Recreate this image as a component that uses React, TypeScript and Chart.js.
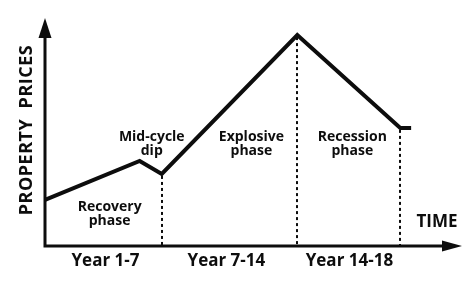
import React, { useEffect, useRef } from 'react';
import { Chart, registerables } from 'chart.js';

Chart.register(...registerables);

// Property cycle path: time position along the axis and relative price level
const timeSteps = [0, 22.7, 28, 60.5, 85.2, 87.8];
const prices = [20.2, 37.3, 31.6, 92.5, 51.8, 51.8];

// Ends of the dip, boom and recession phases (dotted markers drop from here)
const phaseEnds = [28, 60.5, 85.2];

// Period labels under the time axis
const periodLabels = ['Year 1-7', 'Year 7-14', 'Year 14-18'];
const periodCenters = [14.5, 43.5, 73];

// Phase names (two lines each)
const phaseNames = [
  ['Recovery', 'phase'],
  ['Mid-cycle', 'dip'],
  ['Explosive', 'phase'],
  ['Recession', 'phase'],
];

const FONT = '"Open Sans", "Noto Sans", sans-serif';
const INK = '#0d0d0d';

// Where each phase name sits, in axis units
const phaseNameAnchors = [
  { x: 15.5, y: 17.1 },
  { x: 25.6, y: 47.6 },
  { x: 49.5, y: 47.6 },
  { x: 73.7, y: 47.6 },
];

const diagramPlugin = {
  id: 'cycleDiagram',
  beforeDatasetsDraw(chart: any) {
    const { ctx, chartArea, scales } = chart;
    const xs = scales.x;
    const ys = scales.y;
    const { left, right, top, bottom } = chartArea;
    ctx.save();

    // dotted drop lines from the curve to the time axis
    ctx.strokeStyle = INK;
    ctx.lineWidth = 2;
    ctx.setLineDash([3, 3]);
    phaseEnds.forEach((t) => {
      const i = timeSteps.indexOf(t);
      const px = Math.round(xs.getPixelForValue(t));
      ctx.beginPath();
      ctx.moveTo(px, ys.getPixelForValue(prices[i]) + 2);
      ctx.lineTo(px, bottom);
      ctx.stroke();
    });
    ctx.setLineDash([]);

    // axes
    ctx.lineWidth = 3;
    ctx.beginPath();
    ctx.moveTo(left, bottom + 1.5);
    ctx.lineTo(left, top + 16);
    ctx.moveTo(left - 1.5, bottom);
    ctx.lineTo(right - 16, bottom);
    ctx.stroke();

    ctx.fillStyle = INK;
    // vertical arrow head
    ctx.beginPath();
    ctx.moveTo(left, top);
    ctx.lineTo(left + 6.5, top + 20);
    ctx.lineTo(left - 6.5, top + 20);
    ctx.closePath();
    ctx.fill();
    // horizontal arrow head
    ctx.beginPath();
    ctx.moveTo(right, bottom);
    ctx.lineTo(right - 20, bottom + 5.5);
    ctx.lineTo(right - 20, bottom - 5.5);
    ctx.closePath();
    ctx.fill();

    ctx.restore();
  },
  afterDatasetsDraw(chart: any) {
    const { ctx, chartArea, scales } = chart;
    const xs = scales.x;
    const ys = scales.y;
    const { left, right, top, bottom } = chartArea;
    ctx.save();
    ctx.fillStyle = INK;
    ctx.textAlign = 'center';
    ctx.textBaseline = 'middle';

    // phase names
    ctx.font = `bold 14px ${FONT}`;
    phaseNames.forEach((lines, i) => {
      const a = phaseNameAnchors[i];
      const px = xs.getPixelForValue(a.x);
      const py = ys.getPixelForValue(a.y);
      lines.forEach((txt, j) => ctx.fillText(txt, px, py + j * 14));
    });

    // period labels
    ctx.font = `bold 17px ${FONT}`;
    periodLabels.forEach((txt, i) => {
      ctx.fillText(txt, xs.getPixelForValue(periodCenters[i]), bottom + 15);
    });

    // axis titles
    ctx.font = `bold 17px ${FONT}`;
    ctx.fillText('TIME', right - 25, bottom - 24);

    ctx.font = `bold 18px ${FONT}`;
    ctx.translate(left - 18, (top + bottom) / 2 - 2);
    ctx.rotate(-Math.PI / 2);
    (ctx as any).letterSpacing = '0.5px';
    ctx.fillText('PROPERTY  PRICES', 0, 0);

    ctx.restore();
  },
};

export default function App() {
  const canvasRef = useRef<HTMLCanvasElement | null>(null);

  useEffect(() => {
    document.body.style.margin = '0';
    const canvas = canvasRef.current;
    if (!canvas) return;
    const chart = new Chart(canvas, {
      type: 'line',
      data: {
        datasets: [
          {
            data: timeSteps.map((t, i) => ({ x: t, y: prices[i] })),
            borderColor: INK,
            borderWidth: 4,
            pointRadius: 0,
            tension: 0,
            borderJoinStyle: 'miter',
            borderCapStyle: 'butt',
            clip: false as any,
          },
        ],
      },
      options: {
        responsive: false,
        animation: false,
        devicePixelRatio: 1,
        layout: { padding: { left: 45, right: 12, top: 18, bottom: 49 } },
        plugins: {
          legend: { display: false },
          tooltip: { enabled: false },
        },
        scales: {
          x: { type: 'linear', min: 0, max: 100, display: false },
          y: { type: 'linear', min: 0, max: 100, display: false },
        },
      },
      plugins: [diagramPlugin],
    });
    return () => chart.destroy();
  }, []);

  return (
    <div style={{ position: 'absolute', left: 0, top: 0, width: 474, height: 295, background: '#fff' }}>
      <canvas ref={canvasRef} width={474} height={295} style={{ display: 'block' }} />
    </div>
  );
}
